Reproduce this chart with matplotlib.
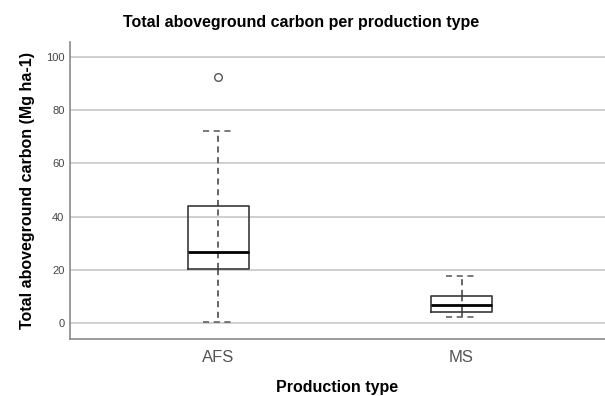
import matplotlib
matplotlib.use("Agg")
import matplotlib.pyplot as plt

categories = ["AFS", "MS"]
whisker_low = [0.4, 2.4]
q1 = [20.4, 4.1]
median = [26.7, 6.75]
q3 = [43.9, 10.1]
whisker_high = [72.2, 17.9]
outliers = [[92.3], []]
y_ticks = [0, 20, 40, 60, 80, 100]

plt.rcParams['font.family'] = ['Liberation Sans', 'DejaVu Sans']

fig = plt.figure(figsize=(6.05, 3.96), dpi=100)
ax = fig.add_axes([70/605, 1-339/396, 1-70/605, (339-41.7)/396])

stats = []
for i, c in enumerate(categories):
    stats.append(dict(label=c, whislo=whisker_low[i], q1=q1[i], med=median[i],
                      q3=q3[i], whishi=whisker_high[i], fliers=outliers[i]))

dash = (0, (4, 3))
positions = list(range(len(categories)))
ax.bxp(stats, positions=positions, widths=0.25, patch_artist=False,
       boxprops=dict(color='#3a3a3a', linewidth=1.2),
       medianprops=dict(color='black', linewidth=2.0),
       whiskerprops=dict(color='#3a3a3a', linewidth=1.1, linestyle=dash),
       capprops=dict(color='#555555', linewidth=1.1, linestyle=dash),
       capwidths=0.125,
       flierprops=dict(marker='o', markerfacecolor='none', markeredgecolor='#555555',
                       markersize=5.5, markeredgewidth=1.0),
       zorder=3)
# dashed whisker line continues through the box
ax.vlines(positions, q1, q3, colors='#3a3a3a', linewidth=1.1, linestyles=[dash], zorder=3)

ax.set_xlim(-0.61, 1.59)
ax.set_ylim(-5.9, 105.6)
ax.set_yticks(y_ticks)
ax.set_yticklabels([str(t) for t in y_ticks], fontsize=8, color='#444444')
ax.set_xticks(positions)
ax.set_xticklabels(categories, fontsize=12, color='#555555')
ax.tick_params(axis='y', length=0, pad=4)
ax.tick_params(axis='x', length=0, pad=8)
ax.yaxis.grid(True, color='#cfcfcf', linewidth=1.4, zorder=0)
ax.set_axisbelow(True)
for s in ['top', 'right']:
    ax.spines[s].set_visible(False)
for s in ['left', 'bottom']:
    ax.spines[s].set_color('#8a8a8a')
    ax.spines[s].set_linewidth(1.2)

ax.set_xlabel("Production type", fontsize=11.5, fontweight='bold', labelpad=11)
ax.set_ylabel("Total aboveground carbon (Mg ha-1)", fontsize=11.5, fontweight='bold', labelpad=8)
fig.text(0.497, 1-22/396, "Total aboveground carbon per production type",
         ha='center', va='center', fontsize=11.5, fontweight='bold')

fig.savefig("out.png", dpi=100)
